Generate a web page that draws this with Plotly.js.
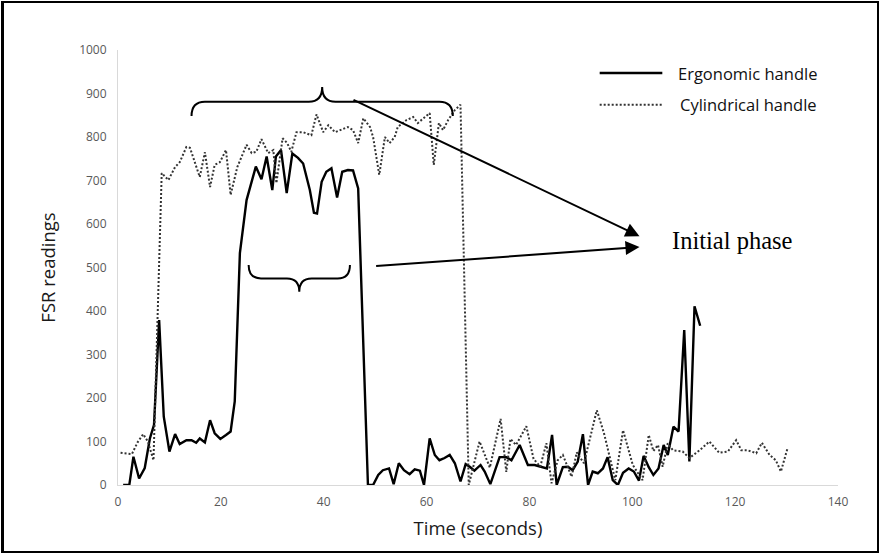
<!DOCTYPE html>
<html>
<head>
<meta charset="utf-8">
<script src="https://cdn.plot.ly/plotly-3.0.1.min.js"></script>
<style>
  html, body { margin: 0; padding: 0; background: #fff; }
  #wrap { position: relative; width: 879px; height: 554px; }
  #chart { width: 879px; height: 554px; }
  #frame { position: absolute; left: 1px; top: 1px; width: 873px; height: 548px; border: 2px solid #000; border-left-width: 3px; pointer-events: none; }
</style>
</head>
<body>
<div id="wrap"><div id="chart"></div><div id="frame"></div></div>
<script>
// ---- Data ----
const ergonomicTime = [1.0, 2.2, 3.0, 4.1, 5.2, 6.2, 7.0, 8.0, 8.9, 10.0, 11.1, 12.0, 13.3, 14.3, 15.2, 15.9, 16.9, 17.9, 18.8, 19.9,
  21.0, 21.9, 22.7, 23.7, 25.0, 26.8, 27.9, 28.9, 30.0, 30.7, 31.7, 32.8, 33.9, 35.0, 36.0, 37.3, 38.1, 38.7, 39.6, 40.5,
  41.5, 42.6, 43.6, 44.7, 45.7, 46.7, 48.6, 49.6, 50.6, 51.5, 52.7, 53.6, 54.6, 55.6, 56.7, 57.7, 58.7, 59.5, 60.6, 61.6,
  62.5, 63.5, 64.5, 65.5, 66.6, 67.6, 68.4, 69.3, 70.5, 71.3, 72.4, 74.2, 75.5, 76.5, 78.1, 79.7, 81.0, 82.3, 83.4, 84.4,
  85.3, 86.5, 87.5, 88.4, 89.4, 90.4, 91.4, 92.3, 93.3, 94.3, 95.2, 96.2, 97.2, 98.2, 99.3, 100.3, 101.3, 102.2, 103.2, 104.1,
  105.1, 106.1, 106.9, 108.0, 109.0, 110.1, 111.1, 112.1, 113.2];
const ergonomicFSR = [0, 0, 65, 15, 39, 107, 138, 379, 157, 77, 117, 94, 103, 103, 97, 107, 98, 149, 119, 106,
  115, 123, 192, 533, 655, 732, 703, 755, 678, 755, 770, 671, 762, 752, 739, 678, 626, 624, 697, 720,
  728, 661, 720, 724, 723, 682, 0, 0, 23, 34, 38, 2, 50, 34, 25, 36, 33, 0, 107, 69,
  57, 62, 69, 50, 8, 48, 42, 33, 46, 31, 2, 64, 64, 57, 92, 46, 46, 41, 38, 115,
  0, 41, 42, 34, 54, 117, 0, 31, 27, 38, 64, 11, 0, 28, 38, 31, 10, 67, 41, 23,
  38, 92, 69, 134, 123, 356, 54, 411, 366];

const cylindricalTime = [0.5, 1.6, 2.7, 3.8, 4.9, 5.8, 6.9, 8.5, 9.8, 11.1, 12.0, 13.3, 14.0, 15.9, 16.9, 17.9, 18.8, 19.8,
  21.0, 21.9, 23.2, 25.0, 26.0, 26.9, 27.9, 29.2, 30.2, 30.8, 32.0, 32.9, 33.7, 34.7, 36.0, 37.6, 38.6, 39.9,
  40.9, 42.2, 43.4, 44.7, 45.7, 46.7, 47.7, 49.0, 49.6, 50.8, 51.9, 52.8, 53.8, 54.4, 56.1, 57.4, 58.3, 59.3,
  60.6, 61.4, 62.4, 63.2, 64.2, 65.5, 66.6, 68.2, 70.3, 72.3, 74.4, 75.5, 76.3, 77.4, 79.4, 80.8, 82.1, 83.3,
  84.3, 85.5, 86.5, 88.2, 89.2, 90.6, 93.1, 94.5, 95.9, 96.7, 98.2, 100.1, 102.0, 103.2, 104.1, 105.0, 105.9,
  106.9, 107.9, 109.8, 111.1, 113.1, 115.0, 116.9, 118.6, 120.2, 121.2, 122.4, 124.1, 125.2, 126.7, 127.9, 128.9, 130.2];
const cylindricalFSR = [74, 72, 71, 98, 117, 100, 57, 717, 701, 731, 742, 777, 775, 708, 765, 685, 736, 742,
  770, 667, 731, 782, 763, 766, 795, 763, 770, 694, 797, 786, 766, 811, 811, 804, 852, 811,
  827, 811, 816, 823, 816, 786, 843, 823, 800, 713, 800, 786, 800, 823, 839, 846, 832, 843,
  855, 736, 832, 816, 839, 862, 874, 0, 100, 40, 152, 30, 106, 92, 135, 60, 42, 96,
  4, 57, 69, 19, 75, 50, 172, 119, 50, 11, 126, 46, 11, 115, 78, 92, 42,
  96, 80, 77, 62, 80, 100, 74, 77, 103, 80, 80, 73, 97, 69, 57, 31, 85];

const seriesNames = ["Ergonomic handle", "Cylindrical handle"];
const xTicks = [0, 20, 40, 60, 80, 100, 120, 140];
const yTicks = [0, 100, 200, 300, 400, 500, 600, 700, 800, 900, 1000];
const calloutText = "Initial phase";

const tickFont = { family: "Open Sans, sans-serif", size: 12, color: "#595959" };
const titleFont = { family: "Open Sans, sans-serif", size: 18.5, color: "#1a1a1a" };
const legendFont = { family: "Open Sans, sans-serif", size: 16.5, color: "#111111" };

const traces = [
  { x: ergonomicTime, y: ergonomicFSR, name: seriesNames[0], type: "scatter", mode: "lines",
    line: { color: "#000000", width: 2.4 }, showlegend: false, hoverinfo: "x+y+name" },
  { x: cylindricalTime, y: cylindricalFSR, name: seriesNames[1], type: "scatter", mode: "lines",
    line: { color: "#333333", width: 2, dash: "2px,2px" }, showlegend: false, hoverinfo: "x+y+name" }
];

// Curly brace helper (annotation drawing in axis units)
function brace(x0, x1, yEnd, yBar, yTip, r) {
  const xm = (x0 + x1) / 2;
  return `M${x0},${yEnd} Q${x0},${yBar} ${x0 + r},${yBar} L${xm - r},${yBar} Q${xm},${yBar} ${xm},${yTip} ` +
         `Q${xm},${yBar} ${xm + r},${yBar} L${x1 - r},${yBar} Q${x1},${yBar} ${x1},${yEnd}`;
}

const layout = {
  width: 879, height: 554,
  margin: { l: 118, r: 41, t: 50, b: 69 },
  paper_bgcolor: "#ffffff", plot_bgcolor: "#ffffff",
  xaxis: {
    range: [0, 140], tickvals: xTicks, ticktext: xTicks.map(String),
    showgrid: false, zeroline: false, showline: true, linecolor: "#d9d9d9", linewidth: 1,
    ticks: "", tickfont: tickFont, ticklabelstandoff: 6,
    title: { text: "Time (seconds)", font: titleFont, standoff: 12 }
  },
  yaxis: {
    range: [0, 1000], tickvals: yTicks, ticktext: yTicks.map(String),
    showgrid: false, zeroline: false, showline: true, linecolor: "#d9d9d9", linewidth: 1,
    ticks: "", tickfont: tickFont, ticklabelstandoff: 8,
    title: { text: "FSR readings", font: titleFont, standoff: 18 }
  },
  shapes: [
    { type: "path", xref: "x", yref: "y", path: brace(14.3, 65.1, 848, 881, 915, 2.6),
      line: { color: "#000", width: 2 } },
    { type: "path", xref: "x", yref: "y", path: brace(25.4, 45.1, 506, 475, 444, 2.4),
      line: { color: "#000", width: 2 } },
    // legend samples
    { type: "line", xref: "paper", yref: "paper", x0: 0.669, x1: 0.756, y0: 0.947, y1: 0.947,
      line: { color: "#000", width: 2.4 } },
    { type: "line", xref: "paper", yref: "paper", x0: 0.669, x1: 0.756, y0: 0.874, y1: 0.874,
      line: { color: "#333333", width: 2, dash: "2px,2px" } }
  ],
  annotations: [
    { xref: "paper", yref: "paper", x: 0.775, y: 0.947, xanchor: "left", yanchor: "middle",
      text: seriesNames[0], showarrow: false, font: legendFont },
    { xref: "paper", yref: "paper", x: 0.778, y: 0.874, xanchor: "left", yanchor: "middle",
      text: seriesNames[1], showarrow: false, font: legendFont },
    { xref: "x", yref: "y", x: 101.4, y: 572, axref: "x", ayref: "y", ax: 45.5, ay: 887,
      showarrow: true, arrowhead: 2, arrowsize: 1.4, arrowwidth: 2, arrowcolor: "#000", text: "", standoff: 0 },
    { xref: "x", yref: "y", x: 101.4, y: 547, axref: "x", ayref: "y", ax: 49.9, ay: 503,
      showarrow: true, arrowhead: 2, arrowsize: 1.4, arrowwidth: 2, arrowcolor: "#000", text: "", standoff: 0 },
    { xref: "paper", yref: "paper", x: (670 - 118) / 720, y: (485 - 240) / 435, xanchor: "left", yanchor: "middle",
      text: calloutText, showarrow: false,
      font: { family: "Liberation Serif, Times New Roman, serif", size: 24.5, color: "#000" } }
  ]
};

Plotly.newPlot("chart", traces, layout, { staticPlot: true, displayModeBar: false });
</script>
</body>
</html>
